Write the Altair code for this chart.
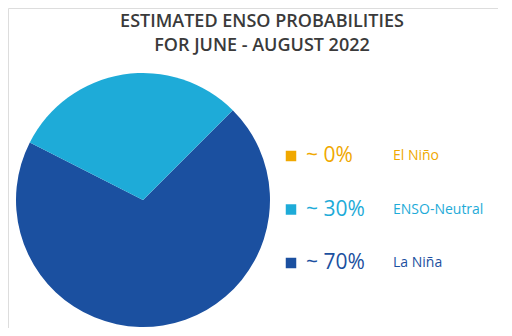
import altair as alt
import pandas as pd

categories = ["La Niña", "ENSO-Neutral", "El Niño"]
probabilities = [70, 30, 0]
pct_labels = ["~ 70%", "~ 30%", "~ 0%"]
colors = ["#1b50a0", "#1eabd8", "#f0a800"]
legend_order = ["El Niño", "ENSO-Neutral", "La Niña"]
title_lines = ["ESTIMATED ENSO PROBABILITIES", "FOR JUNE - AUGUST 2022"]

df = pd.DataFrame({
    "category": categories,
    "prob": probabilities,
    "pct": pct_labels,
    "order": [0, 1, 2],
})
tdf = pd.DataFrame({"line": title_lines, "row": [0, 1]})

color_scale = alt.Scale(domain=categories, range=colors)
row_scale = alt.Scale(domain=legend_order, range=[148, 255], type="point", padding=0)

pie = alt.Chart(df).mark_arc(radius=127, strokeWidth=0).encode(
    theta=alt.Theta("prob:Q", stack=True, scale=alt.Scale(range=[0.785, 7.068])),
    order=alt.Order("order:Q"),
    color=alt.Color("category:N", scale=color_scale, legend=None),
    x=alt.value(135),
    y=alt.value(192),
)

squares = alt.Chart(df).mark_square(size=110, opacity=1).encode(
    x=alt.value(283),
    y=alt.Y("category:N", scale=row_scale, axis=None),
    color=alt.Color("category:N", scale=color_scale, legend=None),
)

pcts = alt.Chart(df).mark_text(align="left", baseline="middle", fontSize=21,
                               font="Open Sans").encode(
    x=alt.value(298),
    y=alt.Y("category:N", scale=row_scale, axis=None),
    text="pct:N",
    color=alt.Color("category:N", scale=color_scale, legend=None),
)

names = alt.Chart(df).mark_text(align="left", baseline="middle", fontSize=14,
                                font="Open Sans").encode(
    x=alt.value(385),
    y=alt.Y("category:N", scale=row_scale, axis=None),
    text="category:N",
    color=alt.Color("category:N", scale=color_scale, legend=None),
)

title = alt.Chart(tdf).mark_text(align="center", baseline="middle", fontSize=18,
                                 font="Open Sans", fontWeight=600,
                                 color="#3a3a3a").encode(
    x=alt.value(254),
    y=alt.Y("row:O", scale=alt.Scale(range=[14, 38], type="point", padding=0, domain=[0, 1]), axis=None),
    text="line:N",
)

chart = alt.layer(pie, squares, pcts, names, title).resolve_scale(y="independent").properties(
    width=490, height=320, padding=0,
    autosize=alt.AutoSizeParams(type="none"),
).configure_view(strokeWidth=0, strokeOpacity=0).configure(background="white")

chart.save("out.html", embed_options={"renderer": "svg", "actions": False})
